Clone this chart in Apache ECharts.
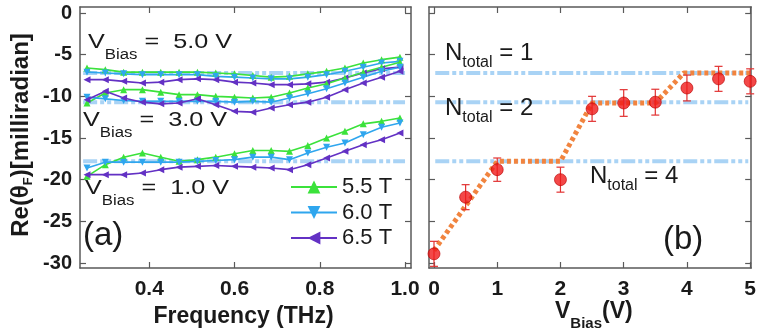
<!DOCTYPE html>
<html>
<head>
<meta charset="utf-8">
<script src="https://cdn.jsdelivr.net/npm/echarts@6/dist/echarts.min.js"></script>
<style>
  html, body { margin: 0; padding: 0; background: #fff; }
  #chart { width: 759px; height: 333px; }
</style>
</head>
<body>
<div id="chart"></div>
<script>
// panel (a): frequency sweep, one curve per field for each bias
const freq = [0.254, 0.297, 0.340, 0.384, 0.427, 0.470, 0.513, 0.556, 0.600,
  0.643, 0.686, 0.729, 0.772, 0.816, 0.859, 0.902, 0.945, 0.988];

const g5V = [-6.6, -6.8, -7.1, -7.1, -7.1, -7.1, -7.1, -7.2, -7.3, -7.5, -7.7, -7.6, -7.3, -7.0, -6.6, -6.0, -5.6, -5.3];
const b5V = [-7.1, -7.2, -7.3, -7.4, -7.4, -7.4, -7.4, -7.6, -7.7, -7.8, -7.9, -7.9, -7.7, -7.4, -7.0, -6.5, -6.0, -5.8];
const p5V = [-8.0, -8.0, -8.2, -8.4, -8.3, -8.0, -7.9, -8.0, -8.3, -8.4, -8.6, -8.6, -8.5, -8.3, -7.8, -7.2, -6.7, -6.5];
const g3V = [-10.8, -9.6, -9.2, -9.2, -9.5, -9.8, -9.8, -10.0, -10.1, -10.2, -10.1, -9.6, -9.0, -8.5, -7.8, -7.1, -6.5, -5.9];
const b3V = [-10.1, -10.3, -10.5, -10.6, -10.6, -10.6, -10.6, -10.6, -10.7, -10.6, -10.7, -10.2, -9.7, -9.1, -8.4, -7.7, -7.0, -6.5];
const p3V = [-10.4, -9.4, -10.2, -10.7, -10.9, -10.8, -10.3, -11.0, -11.8, -11.9, -11.4, -11.0, -10.7, -10.1, -9.2, -8.4, -7.7, -7.0];
const g1V = [-19.6, -18.2, -17.3, -16.8, -17.3, -17.8, -17.6, -17.3, -16.9, -16.5, -16.5, -16.6, -15.9, -15.0, -14.2, -13.3, -13.0, -12.6];
const b1V = [-18.6, -17.9, -17.9, -17.9, -17.9, -17.9, -17.8, -17.7, -17.6, -17.3, -17.3, -17.6, -16.8, -16.1, -15.6, -14.6, -13.7, -13.2];
const p1V = [-19.4, -19.4, -19.4, -19.2, -18.8, -18.5, -18.4, -18.3, -18.4, -18.5, -18.6, -18.8, -18.2, -17.4, -16.6, -15.8, -15.2, -14.4];

const fields = ['5.5 T', '6.0 T', '6.5 T'];

// reference levels N_total = 1, 2, 4
const nLevels = [-7.2, -10.7, -17.8];

// panel (b): value vs bias voltage with error bars
const vBias = [0, 0.5, 1, 2, 2.5, 3, 3.5, 4, 4.5, 5];
const theta = [-28.9, -22.1, -18.8, -20.0, -11.5, -10.8, -10.7, -9.0, -7.9, -8.2];
const thetaErr = [1.5, 1.5, 1.4, 1.5, 1.5, 1.6, 1.55, 1.55, 1.5, 1.5];

// step guide (orange dotted)
const stepX = [0, 1, 2, 2.5, 3.5, 3.95, 5];
const stepY = [-28.5, -17.8, -17.8, -10.8, -10.8, -7.2, -7.2];

const xTicksA = [0.4, 0.6, 0.8, 1.0];
const xTicksB = [0, 1, 2, 3, 4, 5];
const yTicks = [0, -5, -10, -15, -20, -25, -30];

const FONT = 'Liberation Sans, Arial, sans-serif';
const INK = '#1a1a1a';
const FRAME = '#5a5a5a';

const GREEN = '#3be23b';
const BLUE = '#2fa6ee';
const PURPLE = '#6331c4';
const REF = '#a9d3f5';

const chart = echarts.init(document.getElementById('chart'));

function frameX(grid, pos, min, max, ticks, labels) {
  return {
    type: 'value', gridIndex: grid, position: pos, min: min, max: max,
    axisLine: { show: true, onZero: false, lineStyle: { color: FRAME, width: 1.5 } },
    axisTick: { show: true, inside: true, length: 6, customValues: ticks, lineStyle: { color: FRAME, width: 1.2 } },
    axisLabel: {
      show: labels, customValues: ticks, margin: 11,
      fontSize: 21, fontWeight: 'bold', fontFamily: FONT, color: INK,
      formatter: (v) => (grid === 0 ? v.toFixed(1) : String(v))
    },
    splitLine: { show: false }
  };
}

function frameY(grid, pos, labels) {
  return {
    type: 'value', gridIndex: grid, position: pos, min: -30.6, max: 0.72,
    axisLine: { show: true, onZero: false, lineStyle: { color: FRAME, width: 1.5 } },
    axisTick: { show: true, inside: true, length: 6, customValues: yTicks, lineStyle: { color: FRAME, width: 1.2 } },
    axisLabel: {
      show: labels, customValues: yTicks, margin: 8,
      fontSize: 20, fontWeight: 'bold', fontFamily: FONT, color: INK
    },
    splitLine: { show: false }
  };
}

// text with a subscript: main centre sits at (x, cy), sub dropped by off px
function subText(x, cy, main, sub, rest, o) {
  const mlh = o.size + 1;
  const pad = o.off + mlh / 2 - o.sub / 2;
  const base = { fontFamily: FONT, fontWeight: o.bold ? 'bold' : 'normal', fill: INK, verticalAlign: 'top' };
  return {
    type: 'text', x: x, y: cy - mlh / 2, scaleX: o.scaleX || 1, z: 10,
    style: {
      text: '{m|' + main + '}{s|' + sub + '}{m|' + rest + '}',
      rich: {
        m: Object.assign({}, base, { fontSize: o.size, lineHeight: mlh }),
        s: Object.assign({}, base, { fontSize: o.sub, lineHeight: o.sub, padding: [pad, 0, 0, 0] })
      }
    }
  };
}

function curve(name, arr, color, rot) {
  return {
    name: name, type: 'line', xAxisIndex: 0, yAxisIndex: 0, z: 3,
    data: freq.map((f, i) => [f, arr[i]]),
    symbol: 'triangle', symbolSize: 7, symbolRotate: rot,
    lineStyle: { color: color, width: 1.6 },
    itemStyle: { color: color },
    animation: false
  };
}

function refLine(xi, yi, x0, x1, y) {
  return {
    type: 'line', xAxisIndex: xi, yAxisIndex: yi, z: 1, silent: true,
    data: [[x0, y], [x1, y]], showSymbol: false, symbol: 'none',
    lineStyle: { color: REF, width: 4, type: [14, 3, 4, 3, 4, 3] },
    animation: false
  };
}

const series = [];
nLevels.forEach((y) => series.push(refLine(0, 0, 0.245, 1.0, y)));
nLevels.forEach((y) => series.push(refLine(2, 2, 0.02, 4.97, y)));

series.push(curve(fields[0], g5V, GREEN, 0));
series.push(curve(fields[1], b5V, BLUE, 180));
series.push(curve(fields[2], p5V, PURPLE, 90));
series.push(curve(fields[0], g3V, GREEN, 0));
series.push(curve(fields[1], b3V, BLUE, 180));
series.push(curve(fields[2], p3V, PURPLE, 90));
series.push(curve(fields[0], g1V, GREEN, 0));
series.push(curve(fields[1], b1V, BLUE, 180));
series.push(curve(fields[2], p1V, PURPLE, 90));

series.push({
  type: 'line', xAxisIndex: 2, yAxisIndex: 2, z: 2, silent: true,
  data: stepX.map((x, i) => [x, stepY[i]]), showSymbol: false, symbol: 'none',
  lineStyle: { color: '#f1843f', width: 5, type: [4, 3] },
  animation: false
});

series.push({
  type: 'custom', xAxisIndex: 2, yAxisIndex: 2, z: 4, silent: true,
  data: vBias.map((v, i) => [v, theta[i], thetaErr[i]]),
  renderItem: (params, api) => {
    const x = api.value(0), y = api.value(1), e = api.value(2);
    const top = api.coord([x, y + e]);
    const bot = api.coord([x, y - e]);
    const st = { stroke: '#e23232', lineWidth: 1.2 };
    return {
      type: 'group', children: [
        { type: 'line', shape: { x1: top[0], y1: top[1], x2: bot[0], y2: bot[1] }, style: st },
        { type: 'line', shape: { x1: top[0] - 4, y1: top[1], x2: top[0] + 4, y2: top[1] }, style: st },
        { type: 'line', shape: { x1: bot[0] - 4, y1: bot[1], x2: bot[0] + 4, y2: bot[1] }, style: st }
      ]
    };
  },
  animation: false
});

series.push({
  type: 'scatter', xAxisIndex: 2, yAxisIndex: 2, z: 5,
  data: vBias.map((v, i) => [v, theta[i]]),
  symbol: 'circle', symbolSize: 12,
  itemStyle: { color: '#f01a1a', borderColor: '#b80000', borderWidth: 0.8 },
  animation: false
});

const option = {
  backgroundColor: '#fff',
  animation: false,
  grid: [
    { left: 80, top: 7, width: 331, height: 261 },
    { left: 429, top: 7, width: 324, height: 261 }
  ],
  xAxis: [
    frameX(0, 'bottom', 0.2376, 1.014, xTicksA, true),
    frameX(0, 'top', 0.2376, 1.014, xTicksA, false),
    frameX(1, 'bottom', -0.079, 5.016, xTicksB, true),
    frameX(1, 'top', -0.079, 5.016, xTicksB, false)
  ],
  yAxis: [
    frameY(0, 'left', true),
    frameY(0, 'right', false),
    frameY(1, 'left', false),
    frameY(1, 'right', false)
  ],
  legend: {
    data: fields, orient: 'vertical', left: 290, top: 176, padding: 0,
    itemWidth: 46, itemHeight: 16, itemGap: 3.5, selectedMode: false,
    textStyle: { fontSize: 22, fontFamily: FONT, color: INK }
  },
  graphic: [
    subText(88, 42.5, 'V', 'Bias', ' =  5.0 V', { size: 21, sub: 14, off: 12.5, scaleX: 1.2 }),
    subText(83, 121, 'V', 'Bias', ' =  3.0 V', { size: 21, sub: 14, off: 12.5, scaleX: 1.2 }),
    subText(85, 188.5, 'V', 'Bias', ' =  1.0 V', { size: 21, sub: 14, off: 12.5, scaleX: 1.2 }),
    subText(445, 54, 'N', 'total', ' = 1', { size: 24, sub: 16, off: 8.5 }),
    subText(445, 109, 'N', 'total', ' = 2', { size: 24, sub: 16, off: 8.5 }),
    subText(590, 177, 'N', 'total', ' = 4', { size: 24, sub: 16, off: 8.5 }),
    subText(555, 312, 'V', 'Bias', '(V)', { size: 23, sub: 15, off: 12, bold: true }),
    {
      type: 'text', x: 83, y: 236, z: 10,
      style: { text: '(a)', fontSize: 33, fontFamily: FONT, fill: INK, verticalAlign: 'middle' }
    },
    {
      type: 'text', x: 663, y: 240, z: 10,
      style: { text: '(b)', fontSize: 33, fontFamily: FONT, fill: INK, verticalAlign: 'middle' }
    },
    {
      type: 'text', x: 243.5, y: 317, z: 10,
      style: {
        text: 'Frequency (THz)', fontSize: 23, fontWeight: 'bold', fontFamily: FONT,
        fill: INK, align: 'center', verticalAlign: 'middle'
      }
    },
    {
      type: 'text', x: 22, y: 135, rotation: Math.PI / 2, z: 10,
      style: {
        text: '{m|Re(θ}{s|F}{m|)[milliradian]}',
        align: 'center', verticalAlign: 'middle',
        rich: {
          m: { fontSize: 24, lineHeight: 25, verticalAlign: 'top', fontWeight: 'bold', fontFamily: FONT, fill: INK },
          s: { fontSize: 13, lineHeight: 13, verticalAlign: 'top', fontWeight: 'bold', fontFamily: FONT, fill: INK, padding: [12, 0, 0, 0] }
        }
      }
    }
  ],
  series: series
};

chart.setOption(option);
</script>
</body>
</html>
